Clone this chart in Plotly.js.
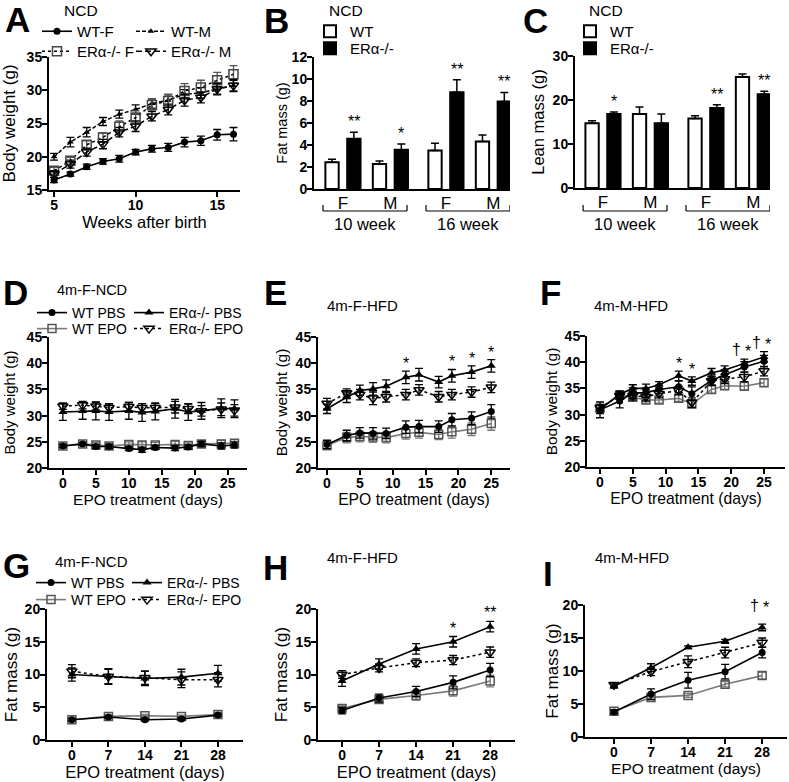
<!DOCTYPE html>
<html><head><meta charset="utf-8">
<script src="https://cdn.plot.ly/plotly-3.0.1.min.js"></script>
<style>html,body{margin:0;padding:0;background:#fff}#chart{width:789px;height:782px}</style>
</head><body><div id="chart"></div>
<script>
const W=789,H=782,FONT='Liberation Sans, Arial, Helvetica, sans-serif';
const px=x=>x/W, py=y=>1-y/H;

// ---------- Panel A: body weight, NCD ----------
const weeks=[5,6,7,8,9,10,11,12,13,14,15,16];
const aWTF=[16.5,17.4,18.5,19.3,19.7,20.7,21.2,21.4,22.2,22.4,23.3,23.4];
const aWTFe=[0.4,0.3,0.4,0.4,0.5,0.4,0.5,0.6,0.7,0.7,0.8,1.0];
const aWTM=[20.0,22.2,23.7,25.3,26.4,27.1,28.0,28.5,29.4,29.6,30.2,30.7];
const aWTMe=[0.5,0.7,0.7,0.6,0.6,0.7,0.7,0.8,0.7,0.8,0.8,0.8];
const aKOF=[17.9,19.4,21.8,22.9,24.5,25.9,27.8,28.4,29.9,30.4,31.5,32.4];
const aKOFe=[0.5,0.5,0.6,0.7,0.9,1.0,0.9,1.0,1.1,1.1,1.2,1.3];
const aKOM=[17.4,18.9,20.7,21.9,23.7,24.6,26.1,27.1,28.5,28.9,30.2,30.7];
const aKOMe=[0.5,0.6,0.6,0.7,0.7,0.8,0.7,0.8,0.9,0.8,0.9,0.9];

// ---------- Panels B, C: bars ----------
const barSex=['F','M','F','M'];
const barAge=['10 week','10 week','16 week','16 week'];
const fatWT=[2.43,2.28,3.5,4.32], fatWTe=[0.27,0.27,0.66,0.6];
const fatKO=[4.56,3.56,8.8,7.96], fatKOe=[0.6,0.54,1.14,0.82];
const fatSig=['**','*','**','**'];
const leanWT=[14.7,16.8,15.8,25.2], leanWTe=[0.6,1.6,0.6,0.7];
const leanKO=[16.8,14.7,18.2,21.3], leanKOe=[0.5,2.1,0.7,0.7];
const leanSig=['*','','**','**'];

// ---------- Panel D: body weight 4m-F-NCD ----------
const daysD=[0,3,5,7,10,12,14,17,19,21,24,26];
const dWTP=[24.2,24.6,24.1,24.1,23.7,23.5,23.9,23.8,24.0,24.6,24.2,24.4];
const dWTPe=[0.3,0.3,0.4,0.4,0.4,0.5,0.4,0.5,0.4,0.5,0.6,0.6];
const dWTE=[24.2,24.6,24.4,24.2,24.5,24.4,24.4,24.5,24.3,24.6,24.6,24.7];
const dWTEe=[0.3,0.3,0.5,0.5,0.5,0.6,0.5,0.6,0.5,0.6,0.7,0.7];
const dKOP=[30.7,30.9,30.9,30.7,30.9,30.6,30.8,31.3,30.7,30.9,31.4,31.3];
const dKOPe=[1.6,1.6,1.7,1.6,1.6,1.7,1.6,1.8,1.6,1.6,1.8,1.7];
const dKOE=[31.8,32.0,31.8,31.5,31.7,31.5,31.5,31.6,31.3,30.9,31.2,31.0];
const dKOEe=[0.6,0.7,0.7,0.7,0.8,0.8,0.8,1.1,0.9,1.0,1.2,1.1];

// ---------- Panels E, F: body weight HFD ----------
const daysEF=[0,3,5,7,9,12,14,17,19,22,25];
const eKOP=[31.3,33.5,34.8,35.1,35.6,37.3,37.8,36.4,37.6,38.3,39.5];
const eKOPe=[0.9,1.0,1.0,1.2,1.2,1.2,1.2,1.1,1.2,1.2,1.2];
const eKOE=[32.3,34.3,34.0,33.3,33.6,34.0,34.9,33.6,34.0,34.5,35.4];
const eKOEe=[1.0,0.8,1.0,1.2,1.0,1.0,1.0,1.0,1.0,1.0,1.0];
const eWTP=[24.5,26.2,26.7,26.6,26.6,27.8,27.9,27.9,29.2,29.5,30.8];
const eWTPe=[0.8,1.0,1.0,1.1,1.0,1.2,1.2,1.1,1.2,1.2,1.3];
const eWTE=[24.3,25.8,26.0,25.9,25.8,26.6,26.8,26.4,26.9,27.4,28.5];
const eWTEe=[0.8,1.0,1.0,1.0,1.0,1.1,1.1,1.0,1.2,1.2,1.3];
const eSig=['','','','','','*','','','*','*','*'];

const fKOP=[31.0,33.9,35.0,35.0,35.7,37.4,36.4,38.0,38.5,39.8,41.0];
const fKOPe=[0.8,0.6,0.7,0.8,0.6,0.9,0.8,0.8,0.8,0.8,1.0];
const fWTP=[30.9,32.6,34.1,34.2,34.8,35.3,34.0,36.5,37.6,39.1,40.2];
const fWTPe=[1.5,1.3,1.0,0.9,0.8,1.1,1.3,0.9,1.0,1.0,1.1];
const fKOE=[31.3,33.6,33.6,33.4,34.0,34.6,32.3,36.4,36.8,37.2,38.3];
const fKOEe=[0.6,0.7,0.8,0.8,0.8,0.8,0.9,0.8,0.9,0.9,0.9];
const fWTE=[31.2,33.7,33.3,32.8,32.8,33.1,32.0,34.8,35.5,35.4,36.1];
const fWTEe=[0.5,0.6,0.6,0.6,0.6,0.6,0.7,0.7,0.7,0.7,0.7];
const fSig=['','','','','','*','*','','','†*','†*'];

// ---------- Panels G, H, I: fat mass ----------
const daysGHI=[0,7,14,21,28];
const gKOP=[10.0,9.7,9.4,9.6,10.2], gKOPe=[1.0,1.2,1.1,1.2,1.2];
const gKOE=[10.5,9.7,9.5,9.2,9.2], gKOEe=[1.0,1.1,1.0,1.2,1.1];
const gWTP=[3.1,3.5,3.1,3.2,3.8], gWTPe=[0.2,0.2,0.2,0.2,0.2];
const gWTE=[3.1,3.6,3.7,3.6,3.9], gWTEe=[0.2,0.2,0.2,0.2,0.3];

const hKOP=[9.0,11.6,13.9,15.0,17.3], hKOPe=[0.8,0.8,0.8,0.8,0.8];
const hKOE=[10.0,11.0,11.8,12.2,13.4], hKOEe=[0.6,0.6,0.6,0.7,0.8];
const hWTP=[4.5,6.4,7.4,8.8,10.7], hWTPe=[0.5,0.6,0.8,1.0,1.0];
const hWTE=[4.8,6.2,6.8,7.5,9.0], hWTEe=[0.4,0.5,0.7,0.8,0.9];
const hSig=['','','','*','**'];

const iKOP=[7.7,10.5,13.6,14.5,16.6], iKOPe=[0.3,0.6,0.2,0.3,0.5];
const iKOE=[7.9,9.9,11.4,12.8,14.3], iKOEe=[0.3,0.6,0.9,0.8,0.7];
const iWTP=[3.8,6.5,8.6,9.9,12.8], iWTPe=[0.3,0.8,1.2,1.1,0.8];
const iWTE=[3.9,6.0,6.3,8.0,9.3], iWTEe=[0.2,0.4,0.3,0.4,0.5];
const iSig=['','','','','†*'];

// ---------- build ----------
const traces=[], annotations=[], shapes=[];
const id=n=>n===1?'':String(n);
const layout={width:W,height:H,margin:{l:0,r:0,t:0,b:0},paper_bgcolor:'white',plot_bgcolor:'rgba(0,0,0,0)',
  showlegend:true,barmode:'group',bargap:0.08,bargroupgap:0.39,font:{family:FONT,color:'black'},
  annotations,shapes};

function baseAxis(){return {showline:true,linecolor:'black',linewidth:2,ticks:'outside',ticklen:5,tickwidth:2,
  tickcolor:'black',showgrid:false,zeroline:false,fixedrange:true,automargin:false,
  tickfont:{family:FONT,size:14,color:'black',weight:'bold'}};}
function addAxes(n,box,xr,yr,xopt,yopt){
  layout['xaxis'+id(n)]=Object.assign(baseAxis(),{domain:[px(box[0]),px(box[1])],range:xr,anchor:'y'+id(n),ticklabelstandoff:-4},xopt);
  layout['yaxis'+id(n)]=Object.assign(baseAxis(),{domain:[py(box[3]),py(box[2])],range:yr,anchor:'x'+id(n),ticklabelstandoff:-3},yopt);
}
const ttl=(t,s,so)=>({text:t,font:{family:FONT,size:s,color:'black'},standoff:so});

const ST={
  c:{line:{color:'black',width:1.6},marker:{symbol:'circle',size:7,color:'black'},ec:'black'},
  s:{line:{color:'#7a7a7a',width:1.6},marker:{symbol:'square-open',size:8,color:'#555',line:{width:1.5}},ec:'#7a7a7a'},
  t:{line:{color:'black',width:1.6},marker:{symbol:'triangle-up',size:8,color:'black'},ec:'black'},
  v:{line:{color:'black',width:1.5,dash:'dot'},marker:{symbol:'triangle-down-open',size:9,color:'black',line:{width:1.5}},ec:'black'},
  am:{line:{color:'black',width:1.5,dash:'4px,2px'},marker:{symbol:'triangle-up',size:6,color:'black'},ec:'black'},
  af:{line:{color:'black',width:1.5,dash:'dot'},marker:{symbol:'square-open',size:9,color:'#444',line:{width:1.5}},ec:'#555'},
  ak:{line:{color:'black',width:1.5,dash:'6px,3px'},marker:{symbol:'triangle-down-open',size:9,color:'black',line:{width:1.5}},ec:'black'}
};
// one Plotly legend per entry so every entry can sit where the reference puts it
let legendCount=0;
function legendItem(textX,rowY,size){
  legendCount++;
  const key=legendCount===1?'legend':'legend'+legendCount;
  layout[key]={x:px(textX-41),y:py(rowY-12),xanchor:'left',yanchor:'top',bgcolor:'rgba(0,0,0,0)',
    font:{family:FONT,size,color:'black'},tracegroupgap:0,itemwidth:30,itemclick:false,itemdoubleclick:false};
  return key;
}
function line(n,x,y,e,st,name,leg){
  const t={type:'scatter',mode:'lines+markers',x,y,name,xaxis:'x'+id(n),yaxis:'y'+id(n),
    error_y:{type:'data',array:e,visible:true,color:st.ec,thickness:1.3,width:4},
    line:st.line,marker:st.marker,cliponaxis:false,showlegend:!!leg};
  if(leg) t.legend=legendItem(leg[0],leg[1],leg[2]);
  traces.push(t);
}
function sig(n,x,sets,marks,yshift,size){
  marks.forEach((m,i)=>{
    if(!m) return;
    const top=Math.max(...sets.map(s=>s[0][i]+s[1][i]));
    const base={xref:'x'+id(n),yref:'y'+id(n),x:x[i],y:top,showarrow:false,yanchor:'bottom',yshift,font:{family:FONT,size:size||16,color:'black'}};
    if(m.indexOf('†')>=0){
      annotations.push(Object.assign({},base,{text:'†',xshift:-8,yshift:yshift+2}));
      annotations.push(Object.assign({},base,{text:'*',xshift:4}));
    } else annotations.push(Object.assign({},base,{text:m}));
  });
}
function text(t,x,y,size,opts){annotations.push(Object.assign({text:t,xref:'paper',yref:'paper',x:px(x),y:py(y),
  xanchor:'left',yanchor:'middle',showarrow:false,font:{family:FONT,size,color:'black'}},opts||{}));}

// A
addAxes(1,[49,240,57,190],[4.69,16.4],[15,35],
  {tickvals:[5,10,15],title:ttl('Weeks after birth',16.5,2)},
  {dtick:5,title:ttl('Body weight (g)',17,9)});
line(1,weeks,aWTF,aWTFe,ST.c,'WT-F',[78,27,15]);
line(1,weeks,aWTM,aWTMe,ST.am,'WT-M',[172,27,15]);
line(1,weeks,aKOF,aKOFe,ST.af,'ERα-/- F',[78,47,15]);
line(1,weeks,aKOM,aKOMe,ST.ak,'ERα-/- M',[172,47,15]);

// B and C
const gpos=barSex.map((_,i)=>i+(i>=2?0.17:0));
function barPanel(n,box,yr,dt,wt,wte,ko,koe,marks,ytitle,ysize,so,legX){
  addAxes(n,box,yr.x,yr.y,{tickvals:gpos,ticktext:barSex,ticks:'',ticklabelstandoff:-2,
     tickfont:{family:FONT,size:17,color:'black',weight:'normal'}},
    {dtick:dt,title:ttl(ytitle,ysize,so)});
  const common={type:'bar',x:gpos,xaxis:'x'+id(n),yaxis:'y'+id(n)};
  traces.push(Object.assign({},common,{y:wt,name:'WT',legend:legendItem(legX,27,15),marker:{color:'white',line:{color:'black',width:2}},
    error_y:{type:'data',array:wte,arrayminus:wt.map(()=>0),symmetric:false,color:'black',thickness:1.5,width:4}}));
  traces.push(Object.assign({},common,{y:ko,name:'ERα-/-',legend:legendItem(legX,44,15),marker:{color:'black',line:{color:'black',width:2}},
    error_y:{type:'data',array:koe,arrayminus:ko.map(()=>0),symmetric:false,color:'black',thickness:1.5,width:4}}));
  marks.forEach((m,i)=>{ if(!m) return;
    annotations.push({xref:'x'+id(n),yref:'y'+id(n),x:gpos[i]+0.23,y:ko[i]+koe[i],text:m,showarrow:false,
      yanchor:'bottom',yshift:0,font:{family:FONT,size:16,color:'black'}});});
  [[0,1],[2,3]].forEach(([a,b])=>{
    const x0=gpos[a]-0.42,x1=gpos[b]+0.35,yb=py(211),yt=py(205);
    const L={color:'black',width:1.2};
    shapes.push({type:'line',xref:'x'+id(n),yref:'paper',x0,x1,y0:yb,y1:yb,line:L});
    shapes.push({type:'line',xref:'x'+id(n),yref:'paper',x0,x1:x0,y0:yb,y1:yt,line:L});
    shapes.push({type:'line',xref:'x'+id(n),yref:'paper',x0:x1,x1,y0:yb,y1:yt,line:L});
    annotations.push({xref:'x'+id(n),yref:'paper',x:(gpos[a]+gpos[b])/2-0.03,y:py(224),text:barAge[a],showarrow:false,
      xanchor:'center',yanchor:'middle',font:{family:FONT,size:16.5,color:'black'}});
  });
}
barPanel(2,[314,510,57,189],{x:[-0.61,3.52],y:[0,12]},2,fatWT,fatWTe,fatKO,fatKOe,fatSig,'Fat mass (g)',14.5,1,351);
barPanel(3,[575,770,56,188],{x:[-0.59,3.52],y:[0,30]},10,leanWT,leanWTe,leanKO,leanKOe,leanSig,'Lean mass (g)',16.5,4,611);

// D, E, F
const xDays={dtick:5};
addAxes(4,[49,247,337,468],[-2.1,27.9],[20,45],Object.assign({title:ttl('EPO treatment (days)',15.5,2)},xDays),{dtick:5,title:ttl('Body weight (g)',15,7)});
addAxes(5,[318,510,337,468],[-1.37,27.85],[20,45],Object.assign({title:ttl('EPO treatment (days)',15.7,2)},xDays),{dtick:5,title:ttl('Body weight (g)',15.5,4)});
addAxes(6,[587,785,336,467],[-1.98,28.2],[20,45],Object.assign({title:ttl('EPO treatment (days)',15.7,2)},xDays),{dtick:5,title:ttl('Body weight (g)',15.5,3)});

line(4,daysD,dWTE,dWTEe,ST.s,'WT EPO',[73,325,14]);
line(4,daysD,dKOE,dKOEe,ST.v,'ERα-/- EPO',[170,325,14]);
line(4,daysD,dWTP,dWTPe,ST.c,'WT PBS',[73,309,14]);
line(4,daysD,dKOP,dKOPe,ST.t,'ERα-/- PBS',[170,309,14]);

line(5,daysEF,eWTE,eWTEe,ST.s,'WT EPO');
line(5,daysEF,eWTP,eWTPe,ST.c,'WT PBS');
line(5,daysEF,eKOE,eKOEe,ST.v,'ERα-/- EPO');
line(5,daysEF,eKOP,eKOPe,ST.t,'ERα-/- PBS');
sig(5,daysEF,[[eKOP,eKOPe],[eKOE,eKOEe],[eWTP,eWTPe],[eWTE,eWTEe]],eSig,-3,16);

line(6,daysEF,fWTE,fWTEe,ST.s,'WT EPO');
line(6,daysEF,fWTP,fWTPe,ST.c,'WT PBS');
line(6,daysEF,fKOE,fKOEe,ST.v,'ERα-/- EPO');
line(6,daysEF,fKOP,fKOPe,ST.t,'ERα-/- PBS');
sig(6,daysEF,[[fKOP,fKOPe],[fKOE,fKOEe],[fWTP,fWTPe],[fWTE,fWTEe]],fSig,-3,16);

// G, H, I
const xWk={tickvals:daysGHI};
addAxes(7,[47,243,609,740],[-4.77,32.8],[0,20],Object.assign({title:ttl('EPO treatment (days)',16.5,1)},xWk),{dtick:5,title:ttl('Fat mass (g)',17,3)});
addAxes(8,[318,515,609,740],[-4.54,32.7],[0,20],Object.assign({title:ttl('EPO treatment (days)',16.5,1)},xWk),{dtick:5,title:ttl('Fat mass (g)',17,4)});
addAxes(9,[585,787,605,737],[-5.48,32.7],[0,20],Object.assign({title:ttl('EPO treatment (days)',15.5,2)},xWk),{dtick:5,title:ttl('Fat mass (g)',17,0)});

line(7,daysGHI,gWTE,gWTEe,ST.s,'WT EPO',[72,596,14]);
line(7,daysGHI,gKOE,gKOEe,ST.v,'ERα-/- EPO',[168,596,14]);
line(7,daysGHI,gWTP,gWTPe,ST.c,'WT PBS',[72,579,14]);
line(7,daysGHI,gKOP,gKOPe,ST.t,'ERα-/- PBS',[168,579,14]);

line(8,daysGHI,hWTE,hWTEe,ST.s,'WT EPO');
line(8,daysGHI,hWTP,hWTPe,ST.c,'WT PBS');
line(8,daysGHI,hKOE,hKOEe,ST.v,'ERα-/- EPO');
line(8,daysGHI,hKOP,hKOPe,ST.t,'ERα-/- PBS');
sig(8,daysGHI,[[hKOP,hKOPe],[hKOE,hKOEe],[hWTP,hWTPe],[hWTE,hWTEe]],hSig,-2,16);

line(9,daysGHI,iWTE,iWTEe,ST.s,'WT EPO');
line(9,daysGHI,iWTP,iWTPe,ST.c,'WT PBS');
line(9,daysGHI,iKOE,iKOEe,ST.v,'ERα-/- EPO');
line(9,daysGHI,iKOP,iKOPe,ST.t,'ERα-/- PBS');
sig(9,daysGHI,[[iKOP,iKOPe],[iKOE,iKOEe],[iWTP,iWTPe],[iWTE,iWTEe]],iSig,6,16);

// panel titles
text('NCD',62,11,15.5);
text('NCD',327,11,15.5);
text('NCD',587,11,15.5);
text('4m-F-NCD',55,290,14.5);
text('4m-F-HFD',325,305,15);
text('4m-M-HFD',592,305,15);
text('4m-F-NCD',53,561,15);
text('4m-F-HFD',325,557,15);
text('4m-M-HFD',593,557,15);
// panel letters
const letters=[['A',3,20],['B',262,21],['C',521,21],['D',1,292],['E',262,292],['F',538,293],['G',1,565],['H',261,567],['I',541,573]];
letters.forEach(([t,x,y])=>text(t,x,y,35,{font:{family:FONT,size:35,color:'black',weight:'bold'}}));

Plotly.newPlot('chart',traces,layout,{staticPlot:true,displayModeBar:false});
</script></body></html>
